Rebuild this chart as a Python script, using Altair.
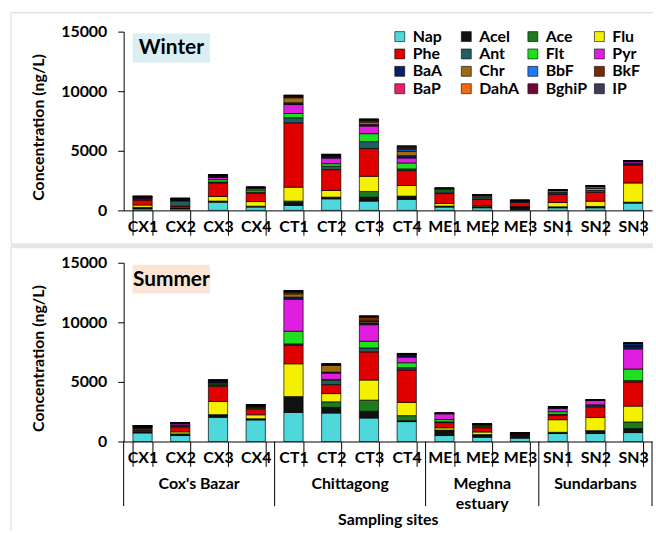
import altair as alt
import pandas as pd

# Sampling sites and the regions they belong to
sites = ["CX1", "CX2", "CX3", "CX4", "CT1", "CT2", "CT3", "CT4",
         "ME1", "ME2", "ME3", "SN1", "SN2", "SN3"]
regions = ["Cox's Bazar", "Chittagong", "Meghna\nestuary", "Sundarbans"]
region_sizes = [4, 4, 3, 3]

# PAH compounds, stacked from the bottom up, with their fill colours
compounds = ["Nap", "Acel", "Ace", "Flu", "Phe", "Ant", "Flt", "Pyr",
             "BaA", "Chr", "BbF", "BkF", "BaP", "DahA", "BghiP", "IP"]
compound_colors = ["#4FD8DC", "#111111", "#1D7A1D", "#F5F000", "#E00000", "#1F5F5F",
                   "#1EE01E", "#E01EE0", "#0B1E66", "#9C6B12", "#1F7BF5", "#7A2A00",
                   "#EE1F6A", "#F26A10", "#6E0838", "#3C3C58"]

# Winter concentrations (ng/L), sites in the order above
w_nap = [130, 130, 690, 280, 420, 970, 780, 920, 280, 220, 80, 220, 220, 610]
w_acel = [70, 20, 60, 50, 250, 100, 330, 220, 60, 60, 180, 60, 80, 60]
w_ace = [50, 10, 30, 20, 110, 40, 470, 60, 20, 30, 30, 20, 30, 20]
w_flu = [200, 20, 390, 390, 1170, 560, 1280, 890, 220, 80, 30, 360, 440, 1610]
w_phe = [420, 180, 1140, 720, 5400, 1750, 2330, 1250, 830, 530, 350, 670, 750, 1500]
w_ant = [90, 440, 70, 70, 420, 280, 580, 140, 150, 150, 70, 120, 150, 90]
w_flt = [50, 30, 200, 180, 360, 220, 670, 500, 150, 120, 30, 70, 170, 50]
w_pyr = [60, 30, 190, 160, 750, 470, 640, 420, 100, 60, 30, 150, 150, 140]
w_baa = [40, 60, 60, 20, 150, 80, 120, 190, 20, 30, 20, 20, 30, 40]
w_chr = [30, 40, 50, 20, 420, 60, 210, 360, 10, 10, 10, 10, 10, 10]
w_bbf = [10, 10, 30, 10, 60, 50, 90, 140, 5, 5, 5, 5, 5, 10]
w_bkf = [10, 20, 30, 10, 60, 40, 60, 120, 5, 5, 5, 5, 5, 10]
w_bap = [10, 10, 20, 10, 40, 30, 40, 80, 5, 5, 5, 5, 5, 5]
w_daha = [5, 5, 10, 5, 20, 20, 30, 50, 0, 0, 0, 0, 0, 0]
w_bghip = [10, 10, 10, 5, 20, 20, 20, 40, 5, 5, 5, 0, 5, 5]
w_ip = [5, 5, 10, 0, 20, 30, 20, 40, 5, 0, 0, 0, 0, 0]

# Summer concentrations (ng/L)
s_nap = [720, 500, 2030, 1810, 2440, 2390, 1970, 1670, 500, 360, 280, 670, 670, 750]
s_acel = [110, 110, 190, 80, 1250, 470, 560, 80, 420, 190, 220, 80, 220, 330]
s_ace = [20, 30, 30, 20, 80, 470, 940, 420, 40, 30, 20, 20, 20, 560]
s_flu = [80, 170, 1110, 330, 2750, 690, 1690, 1110, 190, 220, 20, 1060, 1110, 1330]
s_phe = [140, 420, 1280, 500, 1560, 750, 2360, 2720, 440, 360, 80, 390, 890, 2030]
s_ant = [60, 80, 100, 60, 110, 360, 330, 190, 60, 90, 40, 60, 100, 110]
s_flt = [40, 60, 80, 50, 1060, 80, 560, 420, 190, 100, 20, 220, 70, 970]
s_pyr = [40, 120, 100, 80, 2690, 530, 1390, 470, 480, 60, 20, 280, 360, 1690]
s_baa = [40, 40, 80, 60, 170, 80, 140, 120, 30, 30, 10, 60, 20, 250]
s_chr = [30, 30, 60, 50, 280, 560, 120, 60, 10, 10, 5, 40, 20, 40]
s_bbf = [10, 10, 30, 20, 90, 40, 60, 40, 5, 5, 0, 20, 5, 120]
s_bkf = [20, 10, 30, 20, 80, 40, 300, 50, 5, 5, 5, 10, 5, 40]
s_bap = [10, 5, 20, 10, 40, 20, 50, 20, 5, 0, 0, 5, 5, 20]
s_daha = [5, 0, 10, 5, 20, 10, 30, 10, 0, 0, 0, 0, 0, 10]
s_bghip = [5, 5, 10, 5, 30, 20, 20, 5, 5, 0, 0, 5, 5, 20]
s_ip = [0, 0, 10, 0, 20, 10, 20, 5, 0, 0, 0, 5, 0, 30]

winter_table = [w_nap, w_acel, w_ace, w_flu, w_phe, w_ant, w_flt, w_pyr,
                w_baa, w_chr, w_bbf, w_bkf, w_bap, w_daha, w_bghip, w_ip]
summer_table = [s_nap, s_acel, s_ace, s_flu, s_phe, s_ant, s_flt, s_pyr,
                s_baa, s_chr, s_bbf, s_bkf, s_bap, s_daha, s_bghip, s_ip]

rows = []
for season, table in (("Winter", winter_table), ("Summer", summer_table)):
    for k, (name, vals) in enumerate(zip(compounds, table)):
        for site, v in zip(sites, vals):
            rows.append({"season": season, "site": site, "compound": name,
                         "k": k, "value": v})
df = pd.DataFrame(rows)

# Region centres and boundaries in site units
edges = [0]
for n in region_sizes:
    edges.append(edges[-1] + n)
centres = [(a + b) / 2 for a, b in zip(edges[:-1], edges[1:])]
region_df = pd.DataFrame({"region": regions, "mid": centres})
edge_df = pd.DataFrame({"edge": edges})

FONT = "Lato"
W, H = 532, 180
FRAME = "#D9D9D9"
one = pd.DataFrame({"d": [0]})


def panel(season, box_fill, bottom):
    data = df[df.season == season]
    x_kw = dict(tickBand="extent", tickSize=25, tickColor="black", domainColor="black",
                labelPadding=-17, labelAngle=0, labelFont=FONT, labelFontSize=16,
                labelFontWeight="bold", labelColor="black")
    if bottom:
        x_kw.update(title="Sampling sites", titleFont=FONT, titleFontSize=16,
                    titleFontWeight="bold", titleColor="black", titleY=71)
    else:
        x_kw.update(title=None)
    y_axis = alt.Axis(values=[0, 5000, 10000, 15000], format="d",
                      title="Concentration (ng/L)", titleFont=FONT, titleFontSize=16,
                      titleFontWeight="bold", titleColor="black", titlePadding=14,
                      titleY=96, labelFont=FONT, labelFontSize=16, labelFontWeight="bold",
                      labelColor="black", labelPadding=11, tickSize=6, tickColor="black",
                      domainColor="black", grid=False)
    if bottom:
        legend = None
    else:
        legend = alt.Legend(title=None, orient="none", legendX=270, legendY=-3,
                            direction="horizontal", columns=4, symbolType="square",
                            symbolSize=100, symbolStrokeColor="black",
                            symbolStrokeWidth=0.6, labelFont=FONT, labelFontSize=16,
                            labelFontWeight="bold", labelColor="black", labelOffset=5,
                            rowPadding=1.5, columnPadding=4, gridAlign="all", padding=0)

    bars = alt.Chart(data).mark_bar(stroke="black", strokeWidth=0.7).encode(
        x=alt.X("site:N", sort=sites,
                scale=alt.Scale(paddingInner=0.49, paddingOuter=0.245),
                axis=alt.Axis(**x_kw)),
        y=alt.Y("value:Q", stack="zero",
                scale=alt.Scale(domain=[0, 15000], nice=False), axis=y_axis),
        color=alt.Color("compound:N",
                        scale=alt.Scale(domain=compounds, range=compound_colors),
                        legend=legend),
        order=alt.Order("k:Q", sort="ascending"),
    )

    tag = pd.DataFrame({"label": [season]})
    box = alt.Chart(tag).mark_rect(color=box_fill).encode(
        x=alt.value(9), x2=alt.value(87), y=alt.value(2), y2=alt.value(31))
    label = alt.Chart(tag).mark_text(font=FONT, fontSize=21, fontWeight="bold",
                                     color="black", baseline="middle").encode(
        x=alt.value(48), y=alt.value(17), text="label:N")

    layers = [bars, box, label]
    if bottom:
        region_x = alt.Scale(domain=[0, len(sites)], nice=False, zero=True)
        region_text = alt.Chart(region_df).mark_text(
            font=FONT, fontSize=16, fontWeight="bold", color="black",
            baseline="top", lineBreak="\n", lineHeight=20).encode(
            x=alt.X("mid:Q", scale=region_x, axis=None),
            y=alt.value(H + 35), text="region:N")
        region_rules = alt.Chart(edge_df).mark_rule(color="black", strokeWidth=1).encode(
            x=alt.X("edge:Q", scale=region_x, axis=None),
            y=alt.value(H), y2=alt.value(H + 65))
        frame_left = alt.Chart(one).mark_rule(color=FRAME, strokeWidth=1).encode(
            x=alt.value(-113.4), y=alt.value(-15.7), y2=alt.value(H + 90))
        layers += [region_text, region_rules, frame_left]
        return alt.layer(*layers).resolve_scale(x="independent").properties(
            width=W, height=H)
    frame_top = alt.Chart(one).mark_rule(color=FRAME, strokeWidth=1).encode(
        x=alt.value(-113.4), x2=alt.value(W + 1), y=alt.value(-19))
    frame_left = alt.Chart(one).mark_rule(color=FRAME, strokeWidth=1).encode(
        x=alt.value(-113.4), y=alt.value(-19), y2=alt.value(H + 33))
    band = alt.Chart(one).mark_rule(color="#E6E6E6", strokeWidth=5).encode(
        x=alt.value(-113.4), x2=alt.value(W + 1), y=alt.value(H + 35.5))
    layers += [frame_top, frame_left, band]
    return alt.layer(*layers).properties(width=W, height=H)


winter = panel("Winter", "#DAEEF3", False)
summer = panel("Summer", "#FBE5D6", True)

chart = alt.vconcat(winter, summer, spacing=52.7, bounds="flush").resolve_scale(
    color="independent"
).properties(
    padding={"left": 8.5, "top": 10, "right": 0, "bottom": 0},
    background="white",
).configure_view(stroke=None)

chart.save("out.html", embed_options={"renderer": "svg", "actions": False})
